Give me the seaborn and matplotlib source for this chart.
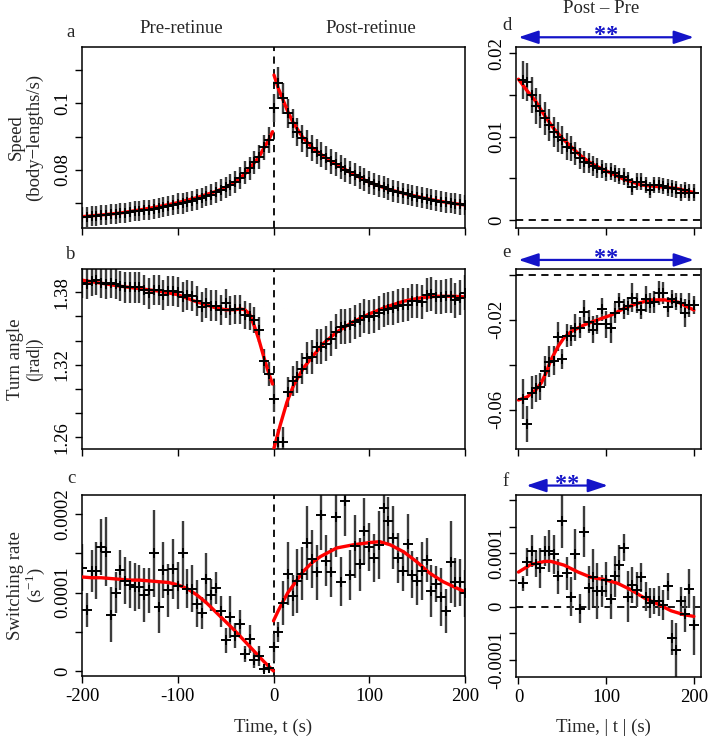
import numpy as np
import matplotlib
matplotlib.use("Agg")
import matplotlib.pyplot as plt
import seaborn as sns

# ---- time grids (s) ----
t_pre = np.arange(-200, 1, 5)      # -200 .. 0
t_post = np.arange(5, 201, 5)      # 5 .. 200
t_abs = np.arange(5, 201, 5)       # |t| for the Post - Pre panels

# ---- a: speed (body-lengths/s) ----
a_pre = [0.0658, 0.0660, 0.0661, 0.0662, 0.0664, 0.0665, 0.0667, 0.0669, 0.0670, 0.0672,
         0.0673, 0.0677, 0.0677, 0.0680, 0.0681, 0.0684, 0.0686, 0.0689, 0.0692, 0.0696,
         0.0699, 0.0700, 0.0704, 0.0707, 0.0712, 0.0716, 0.0722, 0.0726, 0.0733, 0.0740,
         0.0748, 0.0755, 0.0765, 0.0775, 0.0792, 0.0805, 0.0823, 0.0840, 0.0868, 0.0890, 0.0985]
a_pre_err = [0.0030, 0.0030, 0.0030, 0.0030, 0.0030, 0.0030, 0.0030, 0.0030, 0.0030, 0.0030,
             0.0030, 0.0030, 0.0030, 0.0030, 0.0030, 0.0030, 0.0030, 0.0030, 0.0030, 0.0030,
             0.0031, 0.0031, 0.0031, 0.0031, 0.0031, 0.0031, 0.0031, 0.0031, 0.0032, 0.0032,
             0.0032, 0.0032, 0.0033, 0.0033, 0.0034, 0.0034, 0.0035, 0.0036, 0.0038, 0.0040, 0.0042]
a_post = [0.1060, 0.1015, 0.0970, 0.0940, 0.0915, 0.0895, 0.0880, 0.0866, 0.0855, 0.0846,
          0.0836, 0.0826, 0.0817, 0.0808, 0.0800, 0.0793, 0.0786, 0.0778, 0.0771, 0.0763,
          0.0758, 0.0753, 0.0748, 0.0742, 0.0738, 0.0734, 0.0730, 0.0727, 0.0723, 0.0720,
          0.0717, 0.0714, 0.0711, 0.0708, 0.0705, 0.0703, 0.0701, 0.0699, 0.0697, 0.0695]
a_post_err = [0.0048, 0.0046, 0.0044, 0.0043, 0.0042, 0.0041, 0.0040, 0.0039, 0.0038, 0.0038,
              0.0037, 0.0037, 0.0036, 0.0036, 0.0035, 0.0035, 0.0035, 0.0034, 0.0034, 0.0034,
              0.0033, 0.0033, 0.0033, 0.0033, 0.0033, 0.0032, 0.0032, 0.0032, 0.0032, 0.0032,
              0.0032, 0.0032, 0.0032, 0.0031, 0.0031, 0.0031, 0.0031, 0.0031, 0.0031, 0.0031]
a_fit_pre_t = [-200, -180, -160, -140, -120, -100, -80, -60, -50, -40, -30, -20, -15, -10, -5, -1]
a_fit_pre = [0.0660, 0.0665, 0.0671, 0.0680, 0.0690, 0.0702, 0.0717, 0.0736, 0.0748, 0.0764,
             0.0788, 0.0822, 0.0840, 0.0866, 0.0890, 0.0915]
a_fit_post_t = [0.5, 5, 10, 15, 20, 30, 40, 50, 60, 80, 100, 120, 140, 160, 180, 200]
a_fit_post = [0.1085, 0.1045, 0.1010, 0.0975, 0.0945, 0.0900, 0.0868, 0.0846, 0.0826, 0.0793,
              0.0763, 0.0742, 0.0727, 0.0714, 0.0703, 0.0695]

# ---- b: turn angle (|rad|) ----
b_pre = [1.388, 1.387, 1.389, 1.390, 1.388, 1.387, 1.388, 1.387, 1.385, 1.384,
         1.384, 1.384, 1.384, 1.382, 1.379, 1.382, 1.382, 1.378, 1.381, 1.381,
         1.380, 1.376, 1.378, 1.377, 1.373, 1.368, 1.371, 1.369, 1.369, 1.365,
         1.371, 1.365, 1.366, 1.366, 1.361, 1.360, 1.357, 1.349, 1.323, 1.312, 1.292]
b_pre_err = [0.0125, 0.0125, 0.0125, 0.0125, 0.0125, 0.0125, 0.0125, 0.0125, 0.0125, 0.0125,
             0.0125, 0.0125, 0.0125, 0.0125, 0.0125, 0.0125, 0.0125, 0.0125, 0.0125, 0.0125,
             0.0125, 0.0125, 0.0125, 0.0125, 0.0125, 0.0125, 0.0125, 0.0125, 0.0125, 0.0125,
             0.0120, 0.0120, 0.0120, 0.0120, 0.0115, 0.0115, 0.0110, 0.0105, 0.0100, 0.0100, 0.0110]
b_post = [1.2561, 1.2561, 1.2975, 1.3063, 1.3099, 1.3168, 1.3257, 1.3265, 1.3348, 1.3348,
          1.3375, 1.3417, 1.3472, 1.3513, 1.3519, 1.3527, 1.3554, 1.3568, 1.3601, 1.3596,
          1.3601, 1.3631, 1.3651, 1.3665, 1.3670, 1.3684, 1.3692, 1.3698, 1.3726, 1.3726,
          1.3720, 1.3775, 1.3783, 1.3761, 1.3761, 1.3770, 1.3770, 1.3734, 1.3753, 1.3797]
b_post_err = [0.0110, 0.0120, 0.0125, 0.0125, 0.0130, 0.0130, 0.0135, 0.0140, 0.0145, 0.0145,
              0.0145, 0.0145, 0.0145, 0.0145, 0.0145, 0.0145, 0.0140, 0.0140, 0.0140, 0.0140,
              0.0140, 0.0140, 0.0140, 0.0140, 0.0140, 0.0140, 0.0140, 0.0140, 0.0140, 0.0140,
              0.0140, 0.0140, 0.0140, 0.0140, 0.0140, 0.0140, 0.0145, 0.0145, 0.0145, 0.0145]
b_fit_pre_t = [-200, -180, -160, -140, -120, -100, -80, -60, -50, -40, -35, -30, -25, -20, -15, -10, -5, -1]
b_fit_pre = [1.390, 1.3875, 1.385, 1.383, 1.381, 1.378, 1.372, 1.367, 1.3655, 1.3655,
             1.3662, 1.3655, 1.362, 1.352, 1.340, 1.326, 1.313, 1.304]
b_fit_post_t = [0.5, 7, 14, 21, 31, 42, 52, 66, 83, 101, 118, 136, 153, 170, 188, 200]
b_fit_post = [1.251, 1.270, 1.289, 1.303, 1.317, 1.328, 1.3375, 1.347, 1.3555, 1.3624,
              1.3679, 1.3726, 1.3753, 1.3767, 1.3767, 1.3761]

# ---- c: switching rate (units of 1e-4 s^-1) ----
c_pre = [1.32, 0.78, 1.28, 1.28, 1.58, 1.52, 0.72, 1.00, 1.29, 1.15,
         1.10, 1.07, 1.07, 0.97, 1.03, 1.50, 0.82, 1.29, 1.03, 1.30,
         1.09, 1.50, 1.05, 1.05, 0.86, 0.74, 1.18, 0.97, 1.06, 0.76,
         0.39, 0.69, 0.45, 0.60, 0.22, 0.41, 0.14, 0.19, 0.03, 0.04, 0.30]
c_pre_err = [0.30, 0.22, 0.27, 0.36, 0.36, 0.44, 0.35, 0.26, 0.26, 0.30,
             0.30, 0.31, 0.28, 0.35, 0.29, 0.55, 0.33, 0.36, 0.34, 0.38,
             0.30, 0.41, 0.25, 0.30, 0.30, 0.21, 0.33, 0.20, 0.20, 0.20,
             0.16, 0.27, 0.16, 0.18, 0.10, 0.18, 0.10, 0.13, 0.04, 0.04, 0.17]
c_post = [0.50, 0.87, 1.24, 0.96, 1.15, 1.24, 1.63, 1.43, 1.26, 1.99,
          1.41, 1.26, 1.96, 1.14, 2.17, 1.22, 1.59, 1.36, 1.79, 1.58,
          1.44, 1.61, 2.08, 1.92, 1.70, 1.44, 1.28, 1.62, 1.23, 1.15,
          1.27, 1.42, 1.02, 1.11, 0.95, 0.77, 1.39, 1.13, 1.13, 0.99]
c_post_err = [0.13, 0.28, 0.40, 0.26, 0.41, 0.34, 0.47, 0.37, 0.35, 0.45,
              0.33, 0.31, 0.50, 0.31, 0.45, 0.32, 0.40, 0.34, 0.42, 0.31,
              0.31, 0.43, 0.45, 0.30, 0.40, 0.32, 0.26, 0.38, 0.30, 0.31,
              0.37, 0.28, 0.33, 0.23, 0.37, 0.28, 0.52, 0.31, 0.30, 0.30]
c_fit_pre_t = [-200, -190, -180, -170, -160, -150, -140, -130, -120, -110, -100,
               -90, -80, -70, -60, -50, -40, -30, -20, -10, 0]
c_fit_pre = [1.20, 1.19, 1.19, 1.18, 1.17, 1.16, 1.16, 1.15, 1.14, 1.13, 1.10,
             1.05, 0.97, 0.87, 0.75, 0.63, 0.51, 0.38, 0.25, 0.12, 0.0]
c_fit_post_t = [0, 5, 10, 15, 21, 31, 40, 49, 66, 83, 101, 111, 122, 136, 150, 163, 177, 191, 200]
c_fit_post = [0.64, 0.77, 0.89, 1.00, 1.10, 1.27, 1.38, 1.46, 1.57, 1.61, 1.64, 1.65, 1.61,
              1.52, 1.39, 1.25, 1.14, 1.06, 1.01]

# ---- d: speed, Post - Pre ----
d_val = [0.0168, 0.0166, 0.0150, 0.0137, 0.0131, 0.0122, 0.0114, 0.0106, 0.0100, 0.0096,
         0.0088, 0.0086, 0.0080, 0.0074, 0.0070, 0.0068, 0.0065, 0.0062, 0.0061, 0.0058,
         0.0058, 0.0056, 0.0053, 0.0052, 0.0048, 0.0040, 0.0046, 0.0046, 0.0042, 0.0036,
         0.0042, 0.0042, 0.0041, 0.0039, 0.0038, 0.0037, 0.0033, 0.0036, 0.0033, 0.0033]
d_err = [0.0023, 0.0023, 0.0022, 0.0022, 0.0020, 0.0020, 0.0019, 0.0018, 0.0018, 0.0017,
         0.0016, 0.0015, 0.0014, 0.0013, 0.0013, 0.0012, 0.0012, 0.0012, 0.0011, 0.0011,
         0.0010, 0.0010, 0.0010, 0.0010, 0.0010, 0.0010, 0.0010, 0.0010, 0.0010, 0.0010,
         0.0010, 0.0010, 0.0010, 0.0010, 0.0010, 0.0010, 0.0010, 0.0010, 0.0010, 0.0010]
d_fit_t = [0, 10, 20, 30, 40, 50, 60, 70, 80, 90, 100, 120, 140, 160, 180, 200]
d_fit = [0.0169, 0.0155, 0.0142, 0.0125, 0.0110, 0.0098, 0.0088, 0.0078, 0.0070, 0.0064,
         0.0059, 0.0049, 0.0042, 0.0040, 0.0038, 0.0033]

# ---- e: turn angle, Post - Pre ----
e_val = [-0.0551, -0.0664, -0.0523, -0.0504, -0.0496, -0.0427, -0.0385, -0.0382, -0.0274, -0.0373,
         -0.0270, -0.0270, -0.0234, -0.0234, -0.0163, -0.0207, -0.0244, -0.0219, -0.0153, -0.0219,
         -0.0234, -0.0170, -0.0119, -0.0153, -0.0138, -0.0101, -0.0126, -0.0156, -0.0107, -0.0126,
         -0.0121, -0.0081, -0.0081, -0.0141, -0.0107, -0.0119, -0.0126, -0.0170, -0.0133, -0.0133]
e_err = [0.0090, 0.0080, 0.0075, 0.0060, 0.0060, 0.0068, 0.0068, 0.0064, 0.0064, 0.0045,
         0.0052, 0.0048, 0.0060, 0.0045, 0.0052, 0.0052, 0.0060, 0.0042, 0.0050, 0.0060,
         0.0070, 0.0045, 0.0040, 0.0045, 0.0038, 0.0064, 0.0045, 0.0038, 0.0056, 0.0045,
         0.0048, 0.0052, 0.0050, 0.0045, 0.0038, 0.0038, 0.0045, 0.0063, 0.0052, 0.0040]
e_fit_t = [0, 10, 20, 26, 32, 37, 45, 52, 60, 75, 90, 106, 121, 136, 151, 167, 182, 200]
e_fit = [-0.0556, -0.0542, -0.0510, -0.0480, -0.0430, -0.0378, -0.0319, -0.0279, -0.0252,
         -0.0222, -0.0200, -0.0178, -0.0148, -0.0126, -0.0111, -0.0111, -0.0121, -0.0156]

# ---- f: switching rate, Post - Pre (units of 1e-4) ----
f_val = [0.44, 0.84, 1.05, 0.80, 0.73, 1.04, 1.04, 0.98, 0.57, 1.60,
         0.63, 0.19, 0.98, -0.04, 1.41, 0.35, 0.55, 0.30, 0.30, 0.51,
         0.15, 0.57, 0.79, 1.11, 0.19, 0.41, 0.32, 0.55, 0.19, 0.07,
         0.11, 0.11, 0.03, 0.38, -0.58, -0.81, 0.10, -0.14, 0.34, -0.35]
f_err = [0.14, 0.27, 0.30, 0.25, 0.37, 0.28, 0.39, 0.37, 0.33, 0.49,
         0.31, 0.37, 0.47, 0.27, 0.48, 0.41, 0.53, 0.52, 0.30, 0.33,
         0.37, 0.38, 0.37, 0.25, 0.48, 0.33, 0.33, 0.27, 0.27, 0.28,
         0.25, 0.28, 0.28, 0.25, 0.33, 0.50, 0.27, 0.34, 0.36, 0.56]
f_fit_t = [0, 14, 30, 37, 52, 68, 83, 98, 113, 128, 144, 159, 174, 189, 200]
f_fit = [0.65, 0.79, 0.85, 0.85, 0.78, 0.65, 0.55, 0.51, 0.44, 0.32, 0.16, 0.05, -0.075, -0.15, -0.18]

# ---- style ----
sns.set_theme(style="ticks")
plt.rcParams["font.family"] = ["Liberation Serif", "DejaVu Serif"]
plt.rcParams["mathtext.fontset"] = "custom"
plt.rcParams["mathtext.rm"] = "Liberation Serif"
plt.rcParams["axes.unicode_minus"] = False
FS = 13.5
BAR = "#3c3c3c"
BLUE = "#1414c8"

W, H = 708, 738
fig = plt.figure(figsize=(W / 100, H / 100), dpi=100)


def px_axes(x0, y0, x1, y1):
    return fig.add_axes([x0 / W, 1 - y1 / H, (x1 - x0) / W, (y1 - y0) / H])


def ftext(x, y, s, **kw):
    fig.text(x / W, 1 - y / H, s, fontsize=kw.pop("fontsize", FS), **kw)


def draw_series(ax, t, y, err, fit_t, fit_y, scale=1.0):
    y = np.asarray(y) * scale
    err = np.asarray(err) * scale
    ax.vlines(t, y - err, y + err, color=BAR, lw=1.7, zorder=2)
    sns.lineplot(x=fit_t, y=np.asarray(fit_y) * scale, color="red", lw=2.4, ax=ax, zorder=3)
    sns.scatterplot(x=t, y=y, marker="+", color="black", s=60, linewidth=1.4, ax=ax, zorder=4)


def style_axes(ax, xlim, ylim, xticks, yticks, ylabels, xlabels=None):
    ax.set_xlim(*xlim)
    ax.set_ylim(*ylim)
    ax.set_xticks(xticks)
    ax.set_xticklabels(xlabels if xlabels else [""] * len(xticks))
    ax.set_yticks(yticks)
    ax.set_yticklabels(ylabels, rotation=90, va="center")
    ax.tick_params(direction="out", length=5, width=1.0, labelsize=FS, pad=3, colors="black")
    ax.tick_params(axis="x", pad=4)
    for sp in ax.spines.values():
        sp.set_visible(True)
        sp.set_linewidth(1.1)
        sp.set_color("black")
    ax.set_xlabel("")
    ax.set_ylabel("")


ax_a = px_axes(82, 47, 465, 228)
ax_b = px_axes(82, 269.3, 465, 449.3)
ax_c = px_axes(82, 495, 465, 675.7)
ax_d = px_axes(516, 46.7, 700.7, 228)
ax_e = px_axes(516, 269.3, 700.7, 449.3)
ax_f = px_axes(516, 495, 700.7, 676.7)

left_ticks = [-200, -100, 0, 100, 200]
right_ticks = [0, 100, 200]

# left column
draw_series(ax_a, t_pre, a_pre, a_pre_err, a_fit_pre_t, a_fit_pre)
draw_series(ax_a, t_post, a_post, a_post_err, a_fit_post_t, a_fit_post)
style_axes(ax_a, (-200, 200), (0.0626, 0.1169), left_ticks,
           [0.07, 0.08, 0.09, 0.10, 0.11], ["", "0.08", "", "0.1", ""])

draw_series(ax_b, t_pre, b_pre, b_pre_err, b_fit_pre_t, b_fit_pre)
draw_series(ax_b, t_post, b_post, b_post_err, b_fit_post_t, b_fit_post)
style_axes(ax_b, (-200, 200), (1.250, 1.399), left_ticks,
           [1.26, 1.28, 1.30, 1.32, 1.34, 1.36, 1.38], ["1.26", "", "", "1.32", "", "", "1.38"])

draw_series(ax_c, t_pre, c_pre, c_pre_err, c_fit_pre_t, c_fit_pre, 1e-4)
draw_series(ax_c, t_post, c_post, c_post_err, c_fit_post_t, c_fit_post, 1e-4)
style_axes(ax_c, (-200, 200), (-0.06e-4, 2.246e-4), left_ticks,
           [0, 0.5e-4, 1e-4, 1.5e-4, 2e-4], ["0", "", "0.0001", "", "0.0002"],
           ["-200", "-100", "0", "100", "200"])

for ax in (ax_a, ax_b, ax_c):
    ax.axvline(0, color="black", lw=1.3, ls=(0, (4, 3)), zorder=1)

# right column
draw_series(ax_d, t_abs, d_val, d_err, d_fit_t, d_fit)
style_axes(ax_d, (-2.8, 207.8), (-0.00096, 0.0208), right_ticks,
           [0, 0.005, 0.01, 0.015, 0.02], ["0", "", "0.01", "", "0.02"])

draw_series(ax_e, t_abs, e_val, e_err, e_fit_t, e_fit)
style_axes(ax_e, (-2.8, 207.8), (-0.0775, 0.0025), right_ticks,
           [0, -0.02, -0.04, -0.06], ["", "-0.02", "", "-0.06"])

draw_series(ax_f, t_abs, f_val, f_err, f_fit_t, f_fit, 1e-4)
style_axes(ax_f, (-2.8, 207.8), (-1.31e-4, 2.094e-4), right_ticks,
           [-1e-4, -0.5e-4, 0, 0.5e-4, 1e-4, 1.5e-4, 2e-4],
           ["-0.0001", "", "0", "", "0.0001", "", ""], ["0", "100", "200"])

for ax in (ax_d, ax_e, ax_f):
    ax.axhline(0, color="black", lw=1.3, ls=(0, (4, 3)), zorder=1)

# significance arrows
for ax, x0, x1, xs in ((ax_d, 0, 200, 100), (ax_e, 0, 200, 100), (ax_f, 9, 102, 55)):
    tr = ax.get_xaxis_transform()
    ax.annotate("", xy=(x1, 1.052), xytext=(x0, 1.052), xycoords=tr, textcoords=tr,
                annotation_clip=False,
                arrowprops=dict(arrowstyle="<|-|>,head_length=1.2,head_width=0.4",
                                mutation_scale=10, color=BLUE, lw=1.6,
                                shrinkA=0, shrinkB=0))
    ax.text(xs, 1.03, "**", transform=tr, ha="center", va="baseline",
            fontsize=17.5, fontweight="bold", color=BLUE)

# labels
ftext(181.7, 33.3, "Pre-retinue", ha="center", va="baseline")
ftext(370.7, 33.3, "Post-retinue", ha="center", va="baseline")
ftext(601, 12.7, "Post \u2013 Pre", ha="center", va="baseline")

for lab, x, y in (("a", 71, 37.3), ("b", 71, 259.3), ("c", 71, 482.7),
                  ("d", 506.7, 30), ("e", 506.7, 256.7), ("f", 506, 486)):
    ftext(x, y, lab, ha="center", va="baseline")

ftext(16, 137.5, "Speed", rotation=90, ha="center", va="center")
ftext(34, 137.5, "(body\u2212lengths/s)", rotation=90, ha="center", va="center")
ftext(16, 359.3, "Turn angle", rotation=90, ha="center", va="center")
ftext(34, 359.3, "(|rad|)", rotation=90, ha="center", va="center")
ftext(16, 585.3, "Switching rate", rotation=90, ha="center", va="center")
ftext(35, 585.3, "(s$^{-1}$)", rotation=90, ha="center", va="center")

ftext(273.5, 731.7, "Time, t (s)", ha="center", va="baseline")
ftext(603, 731.7, "Time, | t | (s)", ha="center", va="baseline")

fig.savefig("out.png", dpi=100)
